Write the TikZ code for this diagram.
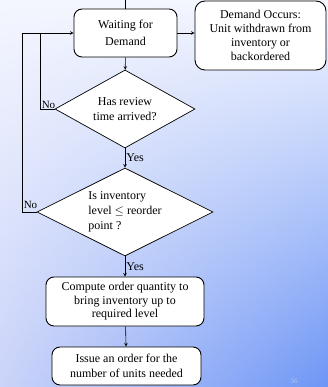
\documentclass[tikz,border=0pt]{standalone}
\usepackage{fontspec}
\setmainfont{Liberation Serif}
\usetikzlibrary{shapes.geometric,fadings}

\definecolor{bgtop}{HTML}{F5F7FF}
\definecolor{bgleft}{HTML}{CBD4F9}
\definecolor{bgright}{HTML}{6E96F6}
\definecolor{pagenum}{HTML}{B4C4EC}

\tikzfading[name=fadedown, top color=transparent!100, middle color=transparent!58, bottom color=transparent!0]

\tikzset{
  stepbox/.style={shape=rectangle, rounded corners=8pt, draw=black, fill=white, line width=0.9pt, align=center, inner sep=2pt},
  decision/.style={shape=diamond, draw=black, fill=white, line width=0.7pt, inner sep=0pt, aspect=1.8},
  lbl/.style={inner sep=1pt},
  nolbl/.style={inner sep=0.5pt, font=\fontsize{11}{13}\selectfont}
}

\begin{document}
\begin{tikzpicture}[x=1pt,y=-1pt,>=stealth,line width=0.6pt,font=\fontsize{12}{14}\selectfont]
    % background
    \fill[bgtop] (0,0) rectangle (328,387);
    \shade[left color=bgleft, right color=bgright, path fading=fadedown] (0,0) rectangle (328,387);
    \useasboundingbox (0,0) rectangle (328,387);

    \node[stepbox, minimum width=103pt, minimum height=48pt, font=\fontsize{12}{17}\selectfont] (wait) at (125.5,33) {Waiting for\\Demand};
    \node[stepbox, rounded corners=10pt, minimum width=131pt, minimum height=69pt] (occur) at (260.5,35.5) {Demand Occurs:\\Unit withdrawn from\\inventory or\\backordered};
    \node[decision, align=center, minimum width=140pt, minimum height=78pt, font=\fontsize{12}{15}\selectfont] (review) at (125,109) {Has review\\time arrived?};
    \node[decision, align=left, minimum width=176pt, minimum height=88pt, font=\fontsize{12}{15}\selectfont] (level) at (125,212) {Is inventory\\level $\leq$ reorder\\point ?};
    \node[stepbox, minimum width=158pt, minimum height=49pt, font=\fontsize{12}{13.5}\selectfont] (compute) at (125,301.5) {Compute order quantity to\\bring inventory up to\\required level};
    \node[stepbox, minimum width=149pt, minimum height=38pt, font=\fontsize{12}{15}\selectfont] (issue) at (126.5,366) {Issue an order for the\\number of units needed};
    \node[text=pagenum, font=\fontsize{7}{8}\selectfont] (page) at (294,381) {56};

    \coordinate (entry) at (125.5,0);
    \coordinate (outer) at (22,33);
    \coordinate (inner) at (40,33);

    \draw (entry) -- (wait);
    \draw[->] (wait.east) -- (wait.east -| occur.west);
    \path [->] (wait) edge (review);
    \path [->] (review) edge node[right,lbl]{Yes} (level);
    \path [->] (level) edge node[right,lbl]{Yes} (compute);
    \path [->] (compute) edge (issue);
    \draw[->] (level.west) -| (outer) -- (wait.west);
    \draw (review.west) -| (inner);
    \node[nolbl, above right, xshift=1pt] (no1) at (review.west -| inner) {No};
    \node[nolbl, above right, xshift=1pt, yshift=3pt] (no2) at (level.west -| outer) {No};
\end{tikzpicture}
\end{document}
